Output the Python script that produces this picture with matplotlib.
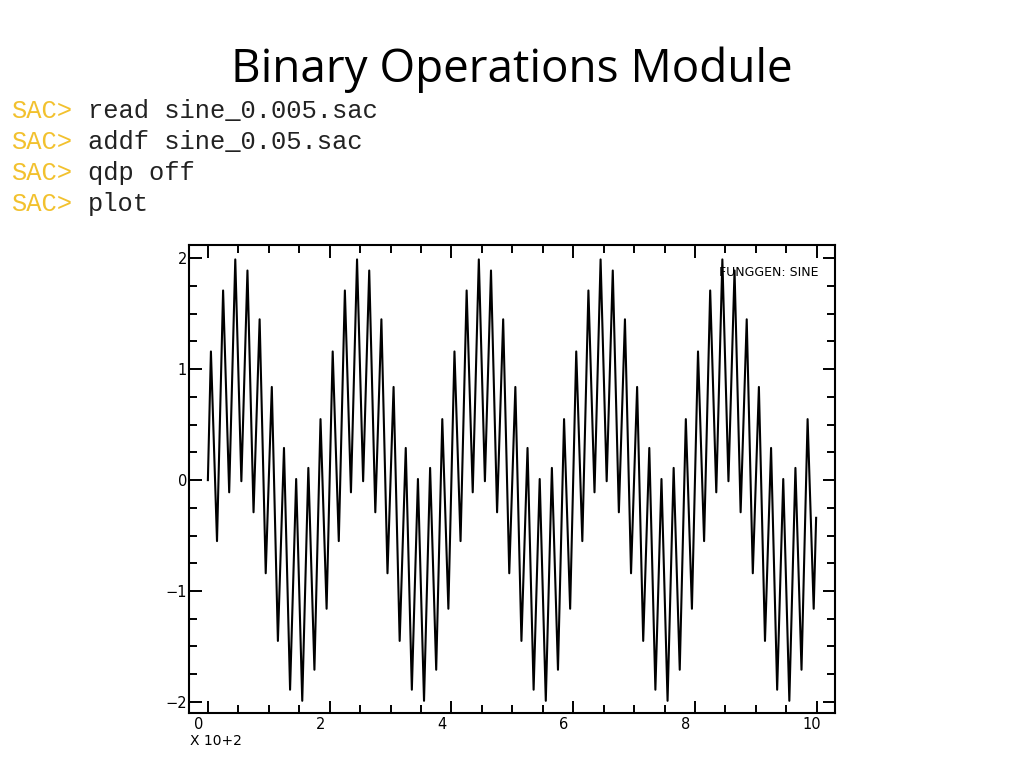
import matplotlib
matplotlib.use("Agg")
import matplotlib.pyplot as plt
import matplotlib.transforms as mtransforms
from matplotlib.ticker import MultipleLocator
import numpy as np

title = "Binary Operations Module"
prompt = "SAC>"
commands = ["read sine_0.005.sac", "addf sine_0.05.sac", "qdp off", "plot"]
plot_label = "FUNGGEN: SINE"
x_mult = "X 10+2"

# turning points of the summed trace (time in seconds)
turn_t = [0,
          5, 15, 25, 35, 45, 55, 65, 75, 85, 95,
          105, 115, 125, 135, 145, 155, 165, 175, 185, 195,
          205, 215, 225, 235, 245, 255, 265, 275, 285, 295,
          305, 315, 325, 335, 345, 355, 365, 375, 385, 395,
          405, 415, 425, 435, 445, 455, 465, 475, 485, 495,
          505, 515, 525, 535, 545, 555, 565, 575, 585, 595,
          605, 615, 625, 635, 645, 655, 665, 675, 685, 695,
          705, 715, 725, 735, 745, 755, 765, 775, 785, 795,
          805, 815, 825, 835, 845, 855, 865, 875, 885, 895,
          905, 915, 925, 935, 945, 955, 965, 975, 985, 995,
          999]
turn_amp = [0.0,
            1.16, -0.55, 1.71, -0.11, 1.99, -0.01, 1.89, -0.29, 1.45, -0.84,
            0.84, -1.45, 0.29, -1.89, 0.01, -1.99, 0.11, -1.71, 0.55, -1.16,
            1.16, -0.55, 1.71, -0.11, 1.99, -0.01, 1.89, -0.29, 1.45, -0.84,
            0.84, -1.45, 0.29, -1.89, 0.01, -1.99, 0.11, -1.71, 0.55, -1.16,
            1.16, -0.55, 1.71, -0.11, 1.99, -0.01, 1.89, -0.29, 1.45, -0.84,
            0.84, -1.45, 0.29, -1.89, 0.01, -1.99, 0.11, -1.71, 0.55, -1.16,
            1.16, -0.55, 1.71, -0.11, 1.99, -0.01, 1.89, -0.29, 1.45, -0.84,
            0.84, -1.45, 0.29, -1.89, 0.01, -1.99, 0.11, -1.71, 0.55, -1.16,
            1.16, -0.55, 1.71, -0.11, 1.99, -0.01, 1.89, -0.29, 1.45, -0.84,
            0.84, -1.45, 0.29, -1.89, 0.01, -1.99, 0.11, -1.71, 0.55, -1.16,
            -0.34]

fig = plt.figure(figsize=(10.24, 7.68), dpi=100)
fig.patch.set_facecolor("white")

# slide text
fig.text(0.5, 1 - 70 / 768, title, ha="center", va="center",
         fontsize=33, family=["Open Sans", "DejaVu Sans"], color="black")

mono = ["Liberation Mono", "DejaVu Sans Mono"]
char_w = 15.3
for i, cmd in enumerate(commands):
    yb = 1 - (118 + 31 * i) / 768
    fig.text(11 / 1024, yb, prompt, ha="left", va="baseline",
             fontsize=18.4, family=mono, color="#f2c12e")
    fig.text((11 + 5 * char_w) / 1024, yb, cmd, ha="left", va="baseline",
             fontsize=18.4, family=mono, color="#222222")

# the SAC plot
ax = fig.add_axes([189 / 1024, 1 - 713 / 768, 646 / 1024, 468 / 768])
ax.plot(np.array(turn_t) / 100.0, turn_amp, color="black", lw=1.5)

ax.set_xlim(-0.31, 10.3)
ax.set_ylim(-2.1, 2.12)
for s in ax.spines.values():
    s.set_linewidth(1.5)

ax.xaxis.set_major_locator(MultipleLocator(2))
ax.xaxis.set_minor_locator(MultipleLocator(0.5))
ax.yaxis.set_major_locator(MultipleLocator(1))
ax.yaxis.set_minor_locator(MultipleLocator(0.25))
ax.tick_params(which="both", direction="in", top=True, right=True, width=1.4,
               labelsize=10.5, colors="black")
ax.tick_params(which="major", length=9)
ax.tick_params(which="minor", length=5.5)
ax.tick_params(axis="x", pad=3)
ax.tick_params(axis="y", pad=1.5)
ax.set_xticks(ax.get_xticks())
ax.set_xticklabels([f"{v:g}" for v in ax.get_xticks()])
ax.set_yticklabels([f"{v:g}".replace("-", "\u2212") for v in ax.get_yticks()])
ax.set_xlim(-0.31, 10.3)

shift = mtransforms.ScaledTranslation(-14 / 100, 0, fig.dpi_scale_trans)
for lab in ax.get_xticklabels():
    lab.set_horizontalalignment("left")
    lab.set_transform(lab.get_transform() + shift)
    lab.set_family(["DejaVu Sans Condensed", "DejaVu Sans"])
for lab in ax.get_yticklabels():
    lab.set_family(["DejaVu Sans Condensed", "DejaVu Sans"])

ax.text(0.975, 0.955, plot_label, transform=ax.transAxes, ha="right", va="top",
        fontsize=9, family=["DejaVu Sans Condensed", "DejaVu Sans"])
fig.text(190 / 1024, 1 - 741 / 768, x_mult, ha="left", va="center",
         fontsize=10, family=["DejaVu Sans Condensed", "DejaVu Sans"])

fig.savefig("out.png", dpi=100, facecolor="white")
